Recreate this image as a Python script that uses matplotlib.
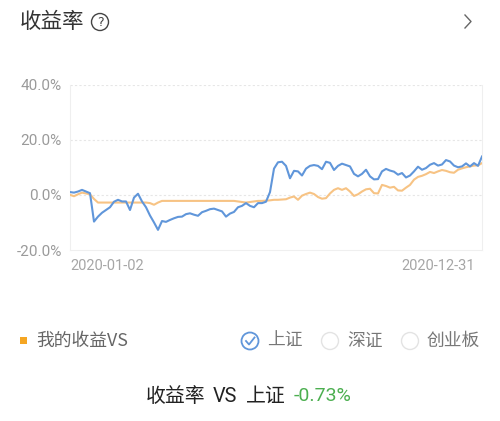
import matplotlib
matplotlib.use("Agg")
import matplotlib.pyplot as plt
from matplotlib.patches import Circle, Rectangle
from matplotlib.ticker import FuncFormatter

plt.rcParams['font.family'] = ['Noto Sans CJK SC', 'DejaVu Sans']

# ---- data ----
index_values = [
    1.0, 0.8, 1.2, 1.8, 1.2, 0.6, -9.7, -7.9, -6.5, -5.5, -4.5, -2.5, -1.8, -2.4, -2.4, -5.5,
    -1.0, 0.4, -2.4, -4.5, -7.5, -10.0, -12.7, -9.5, -9.8, -9.1, -8.5, -8.0, -7.9, -7.0, -6.7,
    -7.2, -7.6, -6.3, -5.8, -5.2, -5.0, -5.5, -6.0, -7.9, -6.8, -6.2, -4.5, -4.0, -3.0, -4.0,
    -4.5, -3.0, -3.0, -2.5, 1.0, 9.5, 11.8, 12.0, 10.5, 6.0, 8.7, 8.5, 7.0, 9.5, 10.5, 10.8,
    10.5, 9.3, 12.0, 11.6, 9.0, 10.5, 11.3, 10.8, 10.3, 7.6, 6.7, 7.6, 9.1, 6.7, 5.6, 5.7,
    8.5, 9.4, 8.8, 8.4, 7.3, 7.9, 6.3, 7.0, 8.5, 10.2, 9.1, 9.7, 10.9, 11.5, 10.6, 11.0,
    12.6, 12.1, 10.6, 10.0, 10.3, 11.4, 10.3, 11.5, 10.5, 13.9,
]
my_values = [
    0.0, -0.5, 0.2, 0.8, 0.5, 0.2, -1.5, -2.8, -2.8, -2.8, -2.8, -2.8, -2.8, -2.8, -2.8, -2.8,
    -2.8, -2.8, -2.8, -2.8, -3.0, -3.6, -2.8, -2.2, -2.2, -2.2, -2.2, -2.2, -2.2, -2.2, -2.2,
    -2.2, -2.2, -2.2, -2.2, -2.2, -2.2, -2.2, -2.2, -2.2, -2.2, -2.2, -2.4, -2.6, -2.8, -2.6,
    -2.4, -2.2, -2.2, -2.1, -2.0, -1.8, -1.8, -1.7, -1.6, -1.0, -0.6, -1.8, -0.3, 0.3, 0.8,
    0.3, -0.8, -1.4, -1.2, 0.5, 1.8, 2.4, 1.8, 2.4, 1.2, -0.4, 0.2, 1.2, 2.0, 2.2, 0.6, 0.5,
    3.6, 3.2, 2.6, 2.9, 1.6, 1.5, 2.6, 3.6, 5.5, 6.5, 6.9, 7.5, 8.3, 7.9, 8.5, 9.0, 8.7, 8.2,
    8.0, 9.1, 9.6, 10.0, 10.3, 10.6, 10.7, 11.5,
]
y_ticks = [-20, 0, 20, 40]
date_labels = ["2020-01-02", "2020-12-31"]
title = "收益率"
legend_label = "我的收益VS"
options = ["上证", "深证", "创业板"]
summary_parts = ["收益率", "VS", "上证"]
summary_value = "-0.73%"

BLUE = "#6096da"
ORANGE = "#f7c384"
W, H = 500, 421

fig = plt.figure(figsize=(5.0, 4.21), dpi=100)
fig.patch.set_facecolor("white")

# ---- main chart ----
ax = fig.add_axes([70 / W, 1 - 250 / H, (482 - 70) / W, (250 - 84.5) / H])
xs = list(range(len(index_values)))
ax.plot(xs, my_values, color=ORANGE, lw=1.5, solid_joinstyle="round", zorder=3)
ax.plot(xs, index_values, color=BLUE, lw=1.5, solid_joinstyle="round", zorder=4)
ax.set_xlim(0, len(index_values) - 1)
ax.set_ylim(-20, 40)
ax.set_yticks(y_ticks)
ax.yaxis.set_major_formatter(FuncFormatter(lambda v, p: f"{v:.1f}%"))
ax.tick_params(axis="y", length=0, pad=6, labelsize=11, labelcolor="#9a9a9a")
for lab in ax.get_yticklabels():
    lab.set_family(["Roboto", "DejaVu Sans"])
ax.set_xticks([])
for s in ax.spines.values():
    s.set_color("#efefef")
    s.set_linewidth(0.8)
ax.spines["top"].set_visible(False)
for v in [0, 20, 40]:
    ax.axhline(v, color="#e6e6e6", lw=0.8, ls=(0, (2, 2)), zorder=1)

ax.text(0.0, -0.055, date_labels[0], transform=ax.transAxes, ha="left", va="top",
        fontsize=10.5, color="#a6a6a6", family=["Roboto", "DejaVu Sans"])
ax.text(0.983, -0.055, date_labels[1], transform=ax.transAxes, ha="right", va="top",
        fontsize=10.5, color="#a6a6a6", family=["Roboto", "DejaVu Sans"])

# ---- overlay in pixel coordinates ----
ov = fig.add_axes([0, 0, 1, 1], zorder=10)
ov.set_xlim(0, W)
ov.set_ylim(H, 0)
ov.axis("off")
ov.patch.set_alpha(0)

ov.text(20, 22, title, fontsize=15.5, color="#333333", ha="left", va="center")
ov.add_patch(Circle((100, 22), 8.5, fill=False, ec="#444444", lw=1.0))
ov.text(100, 22.5, "?", fontsize=9, color="#444444", ha="center", va="center",
        family=["DejaVu Sans"])
ov.plot([465, 471, 465], [15, 21.5, 28], color="#666666", lw=1.0)

# legend row
ov.add_patch(Rectangle((20, 337), 7, 7, color="#f5a623", lw=0))
ov.text(36, 341, legend_label, fontsize=12.8, color="#666666", ha="left", va="center")
opt_x = [250, 330, 410]
for i, (cx, lab) in enumerate(zip(opt_x, options)):
    if i == 0:
        ov.add_patch(Circle((cx, 341), 8.5, fill=False, ec=BLUE, lw=1.3))
        ov.plot([cx - 4, cx - 1, cx + 4.5], [341, 344.5, 337.5], color=BLUE, lw=1.3)
    else:
        ov.add_patch(Circle((cx, 341), 8.5, fill=False, ec="#e3e3e3", lw=1.0))
    ov.text(cx + 17, 341, lab, fontsize=12.8, color="#777777", ha="left", va="center")

# summary line
for px, part in zip([146, 213, 246], summary_parts):
    ov.text(px, 396, part, fontsize=14.3, color="#222222", ha="left", va="center",
            family=["Noto Sans CJK SC", "DejaVu Sans"] if part != "VS" else ["Roboto", "DejaVu Sans"])
ov.text(294, 396, summary_value, fontsize=14, color="#4caf50", ha="left", va="center",
        family=["Roboto", "DejaVu Sans"])

fig.savefig("out.png", dpi=100, facecolor="white")
